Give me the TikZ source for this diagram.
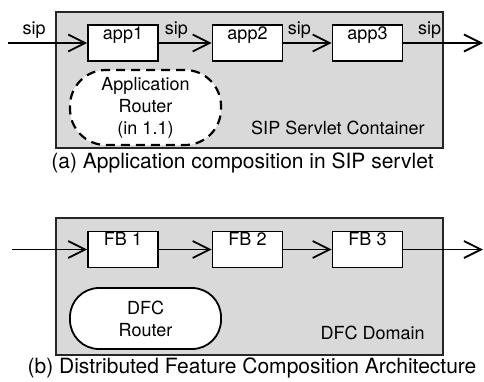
\documentclass[tikz,border=0pt]{standalone}
\usepackage{fontspec}
\setmainfont{TeX Gyre Heros}
\usetikzlibrary{arrows.meta}
\definecolor{domaingray}{gray}{0.85}
\tikzset{%
  container/.style = {shape=rectangle, draw=black!85, line width=2.4pt,%
                      fill=domaingray, inner sep=0pt},%
  appbox/.style    = {shape=rectangle, draw, line width=1.6pt, fill=white,%
                      minimum width=70pt, minimum height=36pt, inner sep=0pt,%
                      text height=14pt, text depth=22pt},%
  router/.style    = {shape=rectangle, draw, line width=1.8pt, fill=white,%
                      minimum width=151pt, align=center, inner sep=0pt},%
  flow/.style      = {line width=1.8pt, -{Straight Barb[length=17pt,width=17pt]}},%
  siplabel/.style  = {pos=.33, anchor=base, yshift=9pt, inner sep=0pt},%
  caption/.style   = {font=\fontsize{21}{25}\selectfont}%
}

\begin{document}
\begin{tikzpicture}
              [x=1pt, y=-1pt, every node/.style={font=\fontsize{18}{22}\selectfont}]
              \useasboundingbox (0,0) rectangle (484,381);
              % -------------- (a) SIP SERVLET -----------------------------
              \node [container, minimum width=387pt, minimum height=136pt] (ssc) at (249.5,80) {};
              \node [anchor=base east, xshift=-16pt, yshift=15pt] (ssclabel) at (ssc.south east) {SIP Servlet Container};
              \node [router, minimum height=75pt, rounded corners=36pt, dashed,%
                     dash pattern=on 9pt off 6pt, line width=2.2pt] (ar) at (145.5,107.5)
                     {Application\\Router\\(in 1.1)};
              \node [appbox] (app1) at (123,43) {app1};
              \node [appbox] (app2) at (247.5,43) {app2};
              \node [appbox] (app3) at (367.5,43) {app3};
              \coordinate (sipin) at (8,43);
              \coordinate (sipout) at (483,43);
              \draw [flow] (sipin) -- (app1.west) node [siplabel] {sip};
              \draw [flow] (app1.east) -- (app2.west) node [siplabel] {sip};
              \draw [flow] (app2.east) -- (app3.west) node [siplabel] {sip};
              \draw [flow] (app3.east) -- (sipout) node [siplabel] {sip};
              \node [caption] (capa) at (242.5,163) {(a) Application composition in SIP servlet};
              % -------------- (b) DFC -----------------------------
              \node [container, minimum width=387pt, minimum height=137pt] (dfc) at (249.5,286.5) {};
              \node [anchor=base east, xshift=-16pt, yshift=17pt] (dfclabel) at (dfc.south east) {DFC Domain};
              \node [router, minimum height=61pt, rounded corners=29pt] (dr) at (145.5,318.5) {DFC\\Router};
              \node [appbox] (fb1) at (123,249.5) {FB 1};
              \node [appbox] (fb2) at (247.5,249.5) {FB 2};
              \node [appbox] (fb3) at (367.5,249.5) {FB 3};
              \coordinate (dfcin) at (12,249.5);
              \coordinate (dfcout) at (483,249.5);
              \draw [flow] (dfcin) -- (fb1.west);
              \draw [flow] (fb1.east) -- (fb2.west);
              \draw [flow] (fb2.east) -- (fb3.west);
              \draw [flow] (fb3.east) -- (dfcout);
              \node [caption] (capb) at (252,368) {(b) Distributed Feature Composition Architecture};
\end{tikzpicture}
\end{document}
